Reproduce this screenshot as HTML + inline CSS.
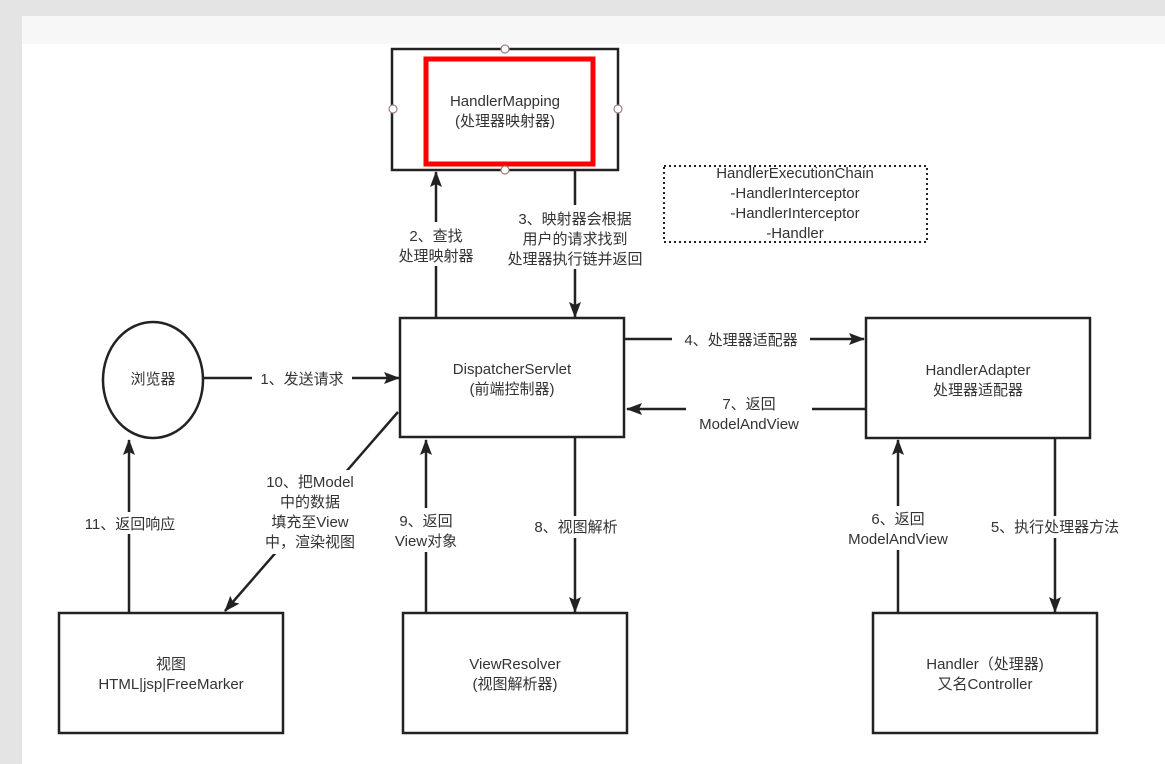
<!DOCTYPE html>
<html><head><meta charset="utf-8"><style>
html,body{margin:0;padding:0;background:#e4e4e4;}
svg{display:block}
text{font-family:"Liberation Sans","Noto Sans CJK SC",sans-serif;font-size:15px;fill:#333;text-anchor:middle}
</style></head><body>
<svg width="1165" height="764" xmlns="http://www.w3.org/2000/svg">
<defs>
<marker id="a" markerWidth="16" markerHeight="12" refX="15" refY="6" orient="auto" markerUnits="userSpaceOnUse" viewBox="0 0 16 12">
<path d="M0,0 L16,6 L0,12 L3,6 z" fill="#222"/></marker>
</defs>
<rect x="22" y="16" width="1143" height="748" fill="#fff"/>
<rect x="22" y="16" width="1143" height="28" fill="#f7f7f7"/>
<g fill="none" stroke="#222" stroke-width="2.5">
<rect x="392" y="49" width="226" height="121"/>
<rect x="400" y="318" width="224" height="119"/>
<rect x="866" y="318" width="224" height="120"/>
<rect x="59" y="613" width="224" height="120"/>
<rect x="403" y="613" width="224" height="120"/>
<rect x="873" y="613" width="224" height="120"/>
<ellipse cx="153" cy="380" rx="50" ry="58"/>
</g>
<rect x="426" y="59" width="167" height="105" fill="none" stroke="#f00" stroke-width="5"/>
<g fill="#fff" stroke="#a08080" stroke-width="1.2">
<circle cx="505" cy="49" r="4"/><circle cx="505" cy="170" r="4"/>
<circle cx="393" cy="109" r="4"/><circle cx="618" cy="109" r="4"/>
</g>
<rect x="664" y="166" width="263" height="76" fill="none" stroke="#222" stroke-width="2" stroke-dasharray="2,3"/>
<g stroke="#222" stroke-width="2.5" fill="none" marker-end="url(#a)">
<line x1="436" y1="318" x2="436" y2="172"/>
<line x1="575" y1="170" x2="575" y2="317"/>
<line x1="203" y1="378" x2="399" y2="378"/>
<line x1="624" y1="339" x2="864" y2="339"/>
<line x1="866" y1="409" x2="627" y2="409"/>
<line x1="398" y1="412" x2="225" y2="611"/>
<line x1="129" y1="613" x2="129" y2="440"/>
<line x1="426" y1="613" x2="426" y2="440"/>
<line x1="575" y1="437" x2="575" y2="612"/>
<line x1="898" y1="613" x2="898" y2="440"/>
<line x1="1055" y1="438" x2="1055" y2="612"/>
</g>
<g fill="#fff">
<rect x="398" y="222" width="80" height="44"/>
<rect x="500" y="205" width="152" height="64"/>
<rect x="252" y="366" width="100" height="22"/>
<rect x="672" y="328" width="138" height="22"/>
<rect x="686" y="393" width="126" height="42"/>
<rect x="250" y="470" width="120" height="84"/>
<rect x="76" y="512" width="108" height="22"/>
<rect x="386" y="508" width="80" height="44"/>
<rect x="526" y="516" width="100" height="22"/>
<rect x="836" y="506" width="126" height="44"/>
<rect x="980" y="516" width="150" height="22"/>
</g>
<text x="505" y="106">HandlerMapping</text>
<text x="505" y="126">(处理器映射器)</text>
<text x="795" y="178">HandlerExecutionChain</text>
<text x="795" y="198">-HandlerInterceptor</text>
<text x="795" y="218">-HandlerInterceptor</text>
<text x="795" y="238">-Handler</text>
<text x="436" y="241">2、查找</text>
<text x="436" y="261">处理映射器</text>
<text x="575" y="224">3、映射器会根据</text>
<text x="575" y="244">用户的请求找到</text>
<text x="575" y="264">处理器执行链并返回</text>
<text x="153" y="384">浏览器</text>
<text x="302" y="384">1、发送请求</text>
<text x="512" y="374">DispatcherServlet</text>
<text x="512" y="394">(前端控制器)</text>
<text x="741" y="345">4、处理器适配器</text>
<text x="749" y="409">7、返回</text>
<text x="749" y="429">ModelAndView</text>
<text x="978" y="375">HandlerAdapter</text>
<text x="978" y="395">处理器适配器</text>
<text x="310" y="487">10、把Model</text>
<text x="310" y="507">中的数据</text>
<text x="310" y="527">填充至View</text>
<text x="310" y="547">中，渲染视图</text>
<text x="130" y="529">11、返回响应</text>
<text x="426" y="526">9、返回</text>
<text x="426" y="546">View对象</text>
<text x="576" y="532">8、视图解析</text>
<text x="898" y="524">6、返回</text>
<text x="898" y="544">ModelAndView</text>
<text x="1055" y="532">5、执行处理器方法</text>
<text x="171" y="669">视图</text>
<text x="171" y="689">HTML|jsp|FreeMarker</text>
<text x="515" y="669">ViewResolver</text>
<text x="515" y="689">(视图解析器)</text>
<text x="985" y="669">Handler（处理器)</text>
<text x="985" y="689">又名Controller</text>
</svg>
</body></html>
